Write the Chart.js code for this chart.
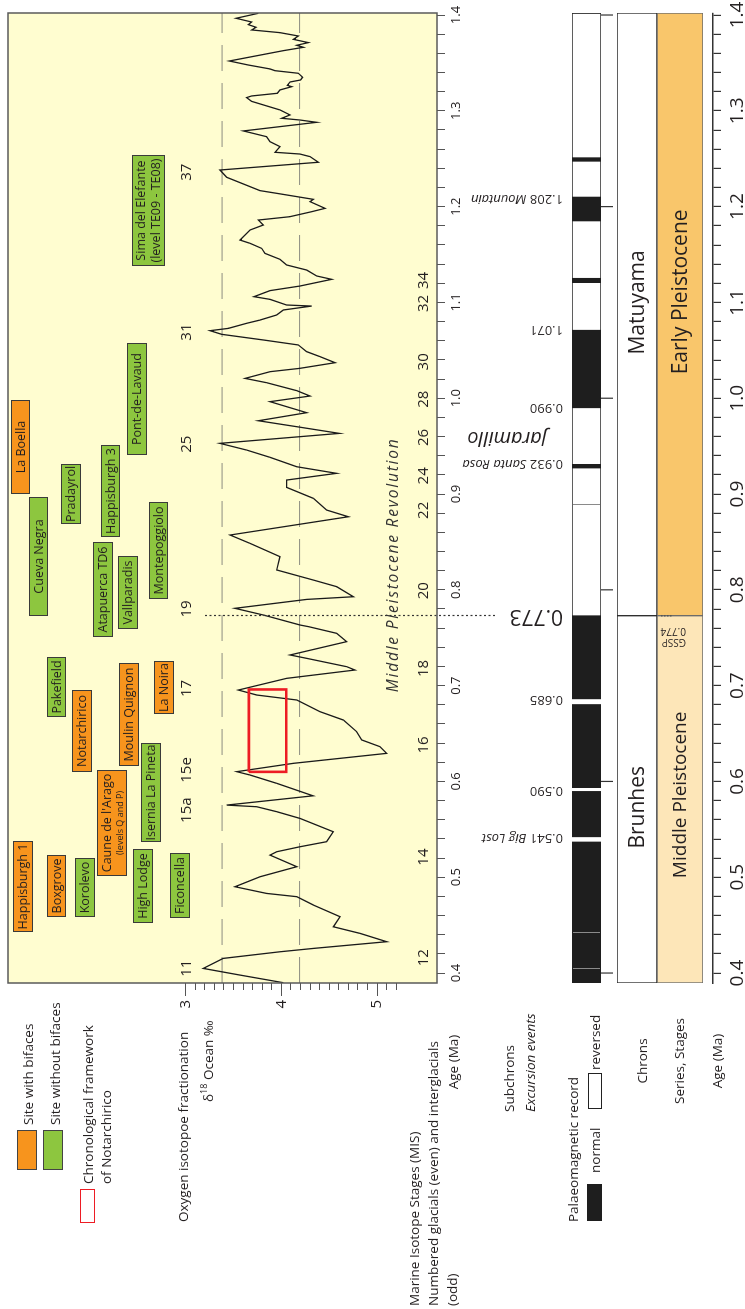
<!DOCTYPE html>
<html>
<head>
<meta charset="utf-8">
<title>Notarchirico chronological framework</title>
<script src="https://cdn.jsdelivr.net/npm/chart.js@4.4.1/dist/chart.umd.min.js"></script>
<style>
  html, body { margin: 0; padding: 0; width: 745px; height: 1309px; overflow: hidden; background: #fff; }
  /* the figure is laid out lying on its side and turned a quarter turn */
  #fig { position: absolute; left: 0; top: 0; width: 1309px; height: 745px;
         transform-origin: 0 0; transform: translateY(1309px) rotate(-90deg);
         font-family: 'Open Sans', sans-serif; color: #231f20; }
  #fig canvas { position: absolute; left: 0; }
  #plot { top: -20px; }
  #strips { top: 440px; }
  .t { position: absolute; white-space: nowrap; font-size: 13.5px; line-height: 16px; }
  .c { transform: translateX(-50%); }
  .sw { position: absolute; box-sizing: border-box; }
  sup { font-size: 9px; vertical-align: 6px; line-height: 0; }
</style>
</head>
<body>
<div id="fig">
  <canvas id="plot" width="1330" height="520"></canvas>
  <canvas id="strips" width="1330" height="305"></canvas>

  <div class="sw" style="left:139px;top:17px;width:40px;height:20px;background:#f7941d;border:1px solid #444"></div>
  <div class="sw" style="left:139px;top:43px;width:40px;height:20px;background:#8dc63f;border:1px solid #444"></div>
  <div class="t" style="left:184px;top:20px">Site with bifaces</div>
  <div class="t" style="left:184px;top:47px">Site without bifaces</div>
  <div class="sw" style="left:86px;top:80px;width:34px;height:15px;border:1.5px solid #ed1c24;background:#fff"></div>
  <div class="t" style="left:125px;top:80px">Chronological framework</div>
  <div class="t" style="left:125px;top:98px">of Notarchirico</div>
  <div class="t" style="left:87px;top:175px">Oxygen isotopoe fractionation</div>
  <div class="t" style="left:207px;top:200px">δ<sup>18</sup> Ocean ‰</div>

  <div class="t" style="left:3px;top:406px">Marine Isotope Stages (MIS)</div>
  <div class="t" style="left:3px;top:425px">Numbered glacials (even) and interglacials</div>
  <div class="t" style="left:3px;top:444px">(odd)</div>
  <div class="t c" style="left:247px;top:445px">Age (Ma)</div>
  <div class="t" style="left:197px;top:501px">Subchrons</div>
  <div class="t" style="left:197px;top:522px;font-style:italic">Excursion events</div>
  <div class="t" style="left:87px;top:565px">Palaeomagnetic record</div>
  <div class="sw" style="left:88px;top:587px;width:37px;height:15px;background:#1e1e1e"></div>
  <div class="t" style="left:136px;top:587px">normal</div>
  <div class="sw" style="left:200px;top:588px;width:36px;height:14px;border:1px solid #222;background:#fff"></div>
  <div class="t" style="left:239px;top:587px">reversed</div>
  <div class="t c" style="left:248px;top:634px">Chrons</div>
  <div class="t c" style="left:248px;top:671px">Series, Stages</div>
  <div class="t c" style="left:248px;top:709px">Age (Ma)</div>
</div>

<script>
// ---- data ----
const ageMin = 0.3896, ageMax = 1.4021;      // Ma shown along the age axis
const d18oMin = 1.143, d18oMax = 5.626;      // per mil shown across the plot
const ageTickLabels = [0.4, 0.5, 0.6, 0.7, 0.8, 0.9, 1.0, 1.1, 1.2, 1.3, 1.4];
const d18oTickLabels = [3, 4, 5];

// benthic d18O stack (Ma, per mil)
const stackAge = [
  0.3899, 0.3979, 0.4048, 0.4153, 0.4222, 0.4257, 0.4327, 0.4414, 0.4483, 0.4588,
  0.4710, 0.4797, 0.4831, 0.4901, 0.5005, 0.5110, 0.5231, 0.5266, 0.5318, 0.5371,
  0.5475, 0.5614, 0.5684, 0.5736, 0.5753, 0.5850, 0.5980, 0.6067, 0.6102, 0.6189,
  0.6293, 0.6363, 0.6433, 0.6520, 0.6641, 0.6728, 0.6850, 0.6902, 0.6954, 0.7076,
  0.7163, 0.7198, 0.7285, 0.7320, 0.7459, 0.7546, 0.7616, 0.7633, 0.7737, 0.7807,
  0.7900, 0.7928, 0.8033, 0.8102, 0.8207, 0.8346, 0.8485, 0.8572, 0.8763, 0.8833,
  0.8955, 0.9069, 0.9146, 0.9216, 0.9285, 0.9383, 0.9459, 0.9529, 0.9633, 0.9703,
  0.9765, 0.9849, 0.9964, 1.0023, 1.0079, 1.0162, 1.0207, 1.0277, 1.0312, 1.0371,
  1.0434, 1.0486, 1.0556, 1.0608, 1.0667, 1.0705, 1.0729, 1.0782, 1.0816, 1.0869,
  1.0921, 1.0962, 1.0973, 1.1032, 1.1060, 1.1123, 1.1171, 1.1241, 1.1276, 1.1338,
  1.1391, 1.1450, 1.1512, 1.1564, 1.1617, 1.1651, 1.1756, 1.1808, 1.1860, 1.1895,
  1.1947, 1.1982, 1.2052, 1.2076, 1.2139, 1.2167, 1.2306, 1.2382, 1.2463, 1.2522,
  1.2549, 1.2567, 1.2626, 1.2678, 1.2730, 1.2790, 1.2880, 1.2904, 1.2922, 1.2957,
  1.3009, 1.3099, 1.3138, 1.3155, 1.3183, 1.3218, 1.3252, 1.3266, 1.3301, 1.3322,
  1.3350, 1.3392, 1.3419, 1.3437, 1.3478, 1.3520, 1.3628, 1.3663, 1.3684, 1.3712,
  1.3746, 1.3781, 1.3816, 1.3844, 1.3872, 1.3900, 1.3927, 1.3966, 1.4018
];
const stackD18O = [
  4.020, 3.567, 3.184, 3.393, 3.985, 4.334, 5.100, 4.821, 4.543, 4.612,
  4.334, 4.160, 3.846, 3.515, 3.776, 4.160, 3.881, 3.951, 4.194, 4.473,
  4.543, 4.194, 3.951, 3.742, 3.428, 4.330, 3.951, 3.672, 3.533, 4.125,
  5.100, 5.030, 4.839, 4.786, 4.647, 4.403, 4.160, 3.742, 3.550, 4.055,
  4.769, 4.682, 4.264, 4.090, 4.682, 4.577, 4.281, 4.194, 3.811, 3.515,
  4.264, 4.752, 4.577, 4.334, 3.951, 3.985, 3.672, 3.463, 4.699, 4.473,
  4.334, 4.055, 4.055, 4.577, 4.160, 3.881, 3.637, 3.358, 4.605, 4.160,
  3.759, 4.264, 3.881, 4.299, 4.160, 3.846, 3.620, 3.881, 4.194, 4.560,
  4.403, 4.264, 4.177, 3.811, 3.376, 3.254, 3.445, 3.637, 3.776, 3.951,
  4.020, 4.316, 4.055, 3.881, 3.714, 3.881, 4.194, 4.525, 4.369, 4.264,
  4.055, 3.985, 3.829, 3.794, 3.672, 3.567, 3.672, 3.811, 3.759, 4.090,
  4.316, 4.456, 4.299, 4.334, 3.951, 3.776, 3.428, 3.358, 4.386, 4.299,
  4.194, 3.933, 3.985, 3.881, 3.846, 3.602, 4.368, 4.194, 4.003, 4.090,
  3.985, 3.689, 3.637, 3.689, 3.958, 3.985, 4.107, 4.062, 4.090, 4.201,
  4.222, 4.177, 3.933, 3.881, 3.654, 3.456, 4.020, 4.229, 4.160, 4.281,
  4.125, 4.177, 3.985, 3.689, 3.735, 3.654, 3.689, 3.526, 3.759
];
const dashedLevels = [3.38, 4.19];

const notarchiricoAge = [0.610, 0.696];
const notarchiricoD18O = [3.66, 4.05];

const misLabels = ['11', '12', '14', '15a', '15e', '16', '17', '18', '19', '20',
                   '22', '24', '25', '26', '28', '30', '31', '32', '34', '37'];
const misAges = [0.405, 0.416, 0.521, 0.570, 0.612, 0.638, 0.697, 0.718, 0.780, 0.799,
                 0.883, 0.919, 0.952, 0.959, 0.999, 1.038, 1.069, 1.099, 1.123, 1.236];

const siteNames = ['Happisburgh 1', 'Boxgrove', 'Korolevo', 'High Lodge', 'Ficoncella',
  "Caune de l'Arago\n(levels Q and P)", 'Isernia La Pineta', 'Notarchirico', 'Moulin Quignon',
  'Pakefield', 'La Noira', 'Atapuerca TD6', 'Vallparadis', 'Cueva Negra', 'Montepoggiolo',
  'Pradayrol', 'Happisburgh 3', 'La Boella', 'Pont-de-Lavaud', 'Sima del Elefante\n(level TE09 - TE08)'];
const siteFrom = [0.443, 0.459, 0.458, 0.452, 0.457, 0.501, 0.537, 0.610, 0.616, 0.667,
                  0.670, 0.751, 0.759, 0.773, 0.790, 0.869, 0.855, 0.900, 0.941, 1.138];
const siteTo = [0.538, 0.523, 0.520, 0.529, 0.525, 0.612, 0.640, 0.695, 0.724, 0.730,
                0.726, 0.850, 0.835, 0.897, 0.892, 0.931, 0.951, 0.998, 1.058, 1.254];
const siteBifaces = [true, true, false, false, false, true, false, true, true, false,
                     true, false, false, false, false, false, false, true, false, false];

const normalIntervals = [[0.3896, 0.773], [0.990, 1.071], [1.185, 1.210]];
const normalEvents = [[0.9271, 0.9310], [1.1206, 1.1252], [1.2473, 1.2511]];
const reversedEvents = [[0.5375, 0.5415], [0.5903, 0.5928], [0.6810, 0.6855]];
const minorEvents = [0.404, 0.442, 0.889];

const subchronAges = [0.541, 0.590, 0.685, 0.932, 0.990, 1.071, 1.208];
const subchronNames = ['Big Lost', '', '', 'Santa Rosa', '', '', 'Mountain'];
const boundaryAge = 0.773;
const jaramilloAge = 0.959;
const gsspAge = 0.774;
const paleoTickAges = [0.4, 0.6, 0.8, 1.0, 1.2, 1.4];

const chronNames = ['Brunhes', 'Matuyama'];
const chronFrom = [0.3896, 0.773];
const chronTo = [0.773, 1.4021];
const seriesNames = ['Middle Pleistocene', 'Early Pleistocene'];
const seriesFrom = [0.3896, 0.773];
const seriesTo = [0.773, 1.4021];

// ---- layout (pixels across the lying-down frame) ----
const PLOT_TOP = -20;                 // where the plot canvas starts
const cy = v => v - PLOT_TOP;
const misOddV = 187, misEvenV = 423.5, mprV = 393.5, mprAge = 0.826;
const mbbFromV = 205, mbbToV = 495;
const siteLanes = [[13, 33], [47, 66], [75, 95], [133, 153], [170, 190], [97, 127], [141, 161],
  [72, 92], [119, 139], [47, 66], [154, 174], [93, 113], [118, 138], [29, 48], [149, 168],
  [61, 81], [101, 120], [11, 30], [127, 147], [132, 165]];
const chronLabelAges = [0.573, 1.100];
const seriesLabelAges = [0.586, 1.111];
const seriesFontSizes = [19, 21];

const INK = '#231f20', ORANGE = '#f7941d', GREEN = '#8dc63f';
const FONT = '"Open Sans", sans-serif';

Chart.defaults.font.family = FONT;
Chart.defaults.color = INK;

const minorAgeTicks = [];
for (let i = 0; i <= 50; i++) minorAgeTicks.push(+(0.4 + i * 0.02).toFixed(2));
const minorD18OTicks = [];
for (let i = 0; i <= 22; i++) minorD18OTicks.push(+(3 + i * 0.1).toFixed(1));
const isAgeLabel = v => ageTickLabels.some(t => Math.abs(t - v) < 1e-6);
const ageLabel = v => isAgeLabel(v) ? v.toFixed(1) : '';

// yellow panel, site boxes, stage numbers and notes
const plotDecor = {
  id: 'plotDecor',
  beforeDraw(chart) {
    const {ctx, chartArea: a} = chart;
    ctx.save();
    ctx.fillStyle = '#fffdd0';
    ctx.fillRect(a.left, a.top, a.right - a.left, a.bottom - a.top);
    ctx.restore();
  },
  afterDatasetsDraw(chart) {
    const {ctx, chartArea: a} = chart;
    const x = chart.scales.x;
    const px = v => x.getPixelForValue(v);
    ctx.save();

    ctx.fillStyle = INK;
    ctx.textAlign = 'center';
    ctx.textBaseline = 'middle';
    ctx.font = '15px ' + FONT;
    misLabels.forEach((lab, i) => {
      const odd = parseInt(lab, 10) % 2 === 1;
      ctx.fillText(lab, px(misAges[i]), cy(odd ? misOddV : misEvenV));
    });

    siteNames.forEach((name, i) => {
      const x1 = Math.round(px(siteFrom[i])), x2 = Math.round(px(siteTo[i]));
      const y1 = cy(siteLanes[i][0]), y2 = cy(siteLanes[i][1]);
      ctx.fillStyle = siteBifaces[i] ? ORANGE : GREEN;
      ctx.fillRect(x1, y1, x2 - x1, y2 - y1);
      ctx.strokeStyle = '#3a3a3a';
      ctx.lineWidth = 1;
      ctx.strokeRect(x1 + 0.5, y1 + 0.5, x2 - x1 - 1, y2 - y1 - 1);
      ctx.fillStyle = INK;
      const lines = name.split('\n');
      const cx = (x1 + x2) / 2, mid = (y1 + y2) / 2;
      ctx.font = '12.5px ' + FONT;
      if (lines.length === 1) {
        ctx.fillText(lines[0], cx, mid + 0.5);
      } else if (y2 - y1 > 31) {
        ctx.fillText(lines[0], cx, mid - 7);
        ctx.fillText(lines[1], cx, mid + 8);
      } else {
        ctx.fillText(lines[0], cx, mid - 4.5);
        ctx.font = '9px ' + FONT;
        ctx.fillText(lines[1], cx, mid + 8.5);
      }
    });

    ctx.fillStyle = '#333';
    ctx.font = 'italic 15.5px ' + FONT;
    ctx.letterSpacing = '1.8px';
    ctx.fillText('Middle Pleistocene Revolution', px(mprAge), cy(mprV));
    ctx.letterSpacing = '0px';

    const b = Math.round(px(boundaryAge)) + 0.5;
    ctx.strokeStyle = '#333';
    ctx.lineWidth = 1.2;
    ctx.setLineDash([2, 2.5]);
    ctx.beginPath();
    ctx.moveTo(b, cy(mbbFromV));
    ctx.lineTo(b, cy(mbbToV));
    ctx.stroke();
    ctx.setLineDash([]);

    ctx.strokeStyle = '#5a5a5a';
    ctx.lineWidth = 1.5;
    ctx.strokeRect(a.left, a.top, a.right - a.left, a.bottom - a.top);
    ctx.restore();
  }
};

const xy = (xs, ys) => xs.map((v, i) => ({x: v, y: ys[i]}));
const na = notarchiricoAge, nd = notarchiricoD18O;

new Chart(document.getElementById('plot'), {
  type: 'line',
  data: {
    datasets: [
      {
        label: 'Notarchirico',
        data: xy([na[0], na[0], na[1], na[1], na[0]], [nd[0], nd[1], nd[1], nd[0], nd[0]]),
        borderColor: '#ed1c24', borderWidth: 2.6, pointRadius: 0, order: 1
      },
      {
        label: 'd18O',
        data: xy(stackAge, stackD18O),
        borderColor: '#1a1a1a', borderWidth: 1.3, pointRadius: 0, tension: 0, order: 2
      },
      ...dashedLevels.map(l => ({
        label: 'level ' + l,
        data: xy([ageMin, ageMax], [l, l]),
        borderColor: '#8c8c80', borderWidth: 1, borderDash: [26, 12], pointRadius: 0, order: 3
      }))
    ]
  },
  options: {
    responsive: false,
    animation: false,
    events: [],
    layout: { padding: { left: 296, right: 34, top: 28, bottom: 33 } },
    plugins: { legend: { display: false }, tooltip: { enabled: false } },
    scales: {
      x: {
        type: 'linear', min: ageMin, max: ageMax, bounds: 'data',
        afterBuildTicks: s => { s.ticks = minorAgeTicks.map(v => ({value: v})); },
        afterFit: s => { s.height = 30; },
        ticks: { autoSkip: false, maxRotation: 0, padding: 3, font: { size: 13 }, callback: ageLabel },
        grid: { drawOnChartArea: false, tickLength: 8, color: '#555', lineWidth: 1 },
        border: { display: false }
      },
      y: {
        type: 'linear', min: d18oMin, max: d18oMax, reverse: true, bounds: 'data', position: 'left', weight: 1,
        afterBuildTicks: s => { s.ticks = minorD18OTicks.map(v => ({value: v})); },
        afterFit: s => { s.width = 0; },
        ticks: { display: false },
        grid: { drawOnChartArea: false, tickLength: 7, color: '#555', lineWidth: 1 },
        border: { display: false }
      },
      yMajor: {
        type: 'linear', min: d18oMin, max: d18oMax, reverse: true, bounds: 'data', position: 'left', weight: 2,
        afterBuildTicks: s => { s.ticks = d18oTickLabels.map(v => ({value: v})); },
        afterFit: s => { s.width = 30; },
        ticks: { padding: 4, font: { size: 15 }, callback: v => String(v) },
        grid: { drawOnChartArea: false, tickLength: 13, color: '#555', lineWidth: 1 },
        border: { display: false }
      }
    }
  },
  plugins: [plotDecor]
});

// palaeomagnetic record, chrons, series
const stripDecor = {
  id: 'stripDecor',
  afterDatasetsDraw(chart) {
    const {ctx, scales} = chart;
    const x = scales.x, paleo = scales.yPaleo, tk = scales.yTicks, chron = scales.yChron, series = scales.ySeries;
    const px = v => x.getPixelForValue(v);
    ctx.save();

    ctx.strokeStyle = '#8a8a8a';
    ctx.lineWidth = 1;
    minorEvents.forEach(a => {
      const p = Math.round(px(a)) + 0.5;
      ctx.beginPath(); ctx.moveTo(p, paleo.top + 1); ctx.lineTo(p, paleo.bottom - 1); ctx.stroke();
    });

    ctx.strokeStyle = '#333';
    ctx.lineWidth = 1.2;
    paleoTickAges.forEach(a => {
      const p = px(a);
      ctx.beginPath(); ctx.moveTo(p, tk.top); ctx.lineTo(p, tk.top + 12); ctx.stroke();
    });

    ctx.fillStyle = INK;
    ctx.textAlign = 'center';
    ctx.textBaseline = 'middle';
    ctx.font = '21px ' + FONT;
    chronNames.forEach((n, i) => ctx.fillText(n, px(chronLabelAges[i]), (chron.top + chron.bottom) / 2 + 1));
    seriesNames.forEach((n, i) => {
      ctx.font = seriesFontSizes[i] + 'px ' + FONT;
      ctx.fillText(n, px(seriesLabelAges[i]), (series.top + series.bottom) / 2 + 1);
    });

    const upright = (cx, cyy, draw) => {
      ctx.save();
      ctx.translate(cx, cyy);
      ctx.rotate(-Math.PI / 2);
      ctx.textAlign = 'left';
      ctx.textBaseline = 'middle';
      draw();
      ctx.restore();
    };
    subchronAges.forEach((a, i) => upright(px(a), paleo.top - 9, () => {
      const num = a.toFixed(3);
      ctx.font = '13px ' + FONT;
      ctx.fillText(num, 0, 0);
      if (subchronNames[i]) {
        const w = ctx.measureText(num + ' ').width;
        ctx.font = 'italic 13px ' + FONT;
        ctx.fillText(subchronNames[i], w, 0);
      }
    }));
    upright(px(boundaryAge), paleo.top - 9, () => {
      ctx.font = '21px ' + FONT;
      ctx.fillText(boundaryAge.toFixed(3), 0, 0);
    });
    upright(px(jaramilloAge), paleo.top - 25, () => {
      ctx.font = 'italic 20px ' + FONT;
      ctx.fillText('Jaramillo', 0, 0);
    });

    const g = px(gsspAge);
    upright(g - 22, series.top + 29, () => {
      ctx.font = '10px ' + FONT;
      ctx.fillText('GSSP', 0, -5.5);
      ctx.fillText(gsspAge.toFixed(3), 0, 5.5);
    });
    ctx.strokeStyle = '#555';
    ctx.lineWidth = 1.5;
    ctx.setLineDash([1.5, 1.5]);
    ctx.beginPath(); ctx.moveTo(g - 1, series.top + 4); ctx.lineTo(g - 1, series.top + 15); ctx.stroke();
    ctx.setLineDash([]);
    ctx.restore();
  }
};

const row = (id, weight, order) => ({
  type: 'category', labels: [id], offset: true, display: false, position: 'left',
  stack: 'strips', stackWeight: weight, weight: order, grid: { display: false }
});
const bars = (ranges, rowId) => ranges.map(r => ({x: r, y: rowId}));
const barStyle = { grouped: false, barPercentage: 1, categoryPercentage: 1, borderSkipped: false };

new Chart(document.getElementById('strips'), {
  type: 'bar',
  data: {
    datasets: [
      { ...barStyle, label: 'excursions (normal)', yAxisID: 'yPaleo', data: bars(normalEvents, 'paleo'),
        backgroundColor: '#1e1e1e', borderWidth: 0, order: 1 },
      { ...barStyle, label: 'excursions (reversed)', yAxisID: 'yPaleo', data: bars(reversedEvents, 'paleo'),
        backgroundColor: '#ffffff', borderWidth: 0, order: 1 },
      { ...barStyle, label: 'normal', yAxisID: 'yPaleo', data: bars(normalIntervals, 'paleo'),
        backgroundColor: '#1e1e1e', borderWidth: 0, order: 2 },
      { ...barStyle, label: 'record', yAxisID: 'yPaleo', data: bars([[ageMin, ageMax]], 'paleo'),
        backgroundColor: '#ffffff', borderColor: '#2a2a2a', borderWidth: 1.2, order: 3 },
      { ...barStyle, label: 'chrons', yAxisID: 'yChron', data: bars(chronFrom.map((f, i) => [f, chronTo[i]]), 'chron'),
        backgroundColor: '#ffffff', borderColor: '#2a2a2a', borderWidth: 1, order: 3 },
      { ...barStyle, label: 'series', yAxisID: 'ySeries', data: bars(seriesFrom.map((f, i) => [f, seriesTo[i]]), 'series'),
        backgroundColor: ['#fde6b8', '#f9c66b'], borderColor: '#6a6a6a', borderWidth: 1, order: 3 }
    ]
  },
  options: {
    indexAxis: 'y',
    responsive: false,
    animation: false,
    events: [],
    layout: { padding: { left: 326, right: 34, top: 132, bottom: 0 } },
    plugins: { legend: { display: false }, tooltip: { enabled: false } },
    scales: {
      x: {
        type: 'linear', min: ageMin, max: ageMax, bounds: 'data', position: 'bottom',
        afterBuildTicks: s => { s.ticks = minorAgeTicks.map(v => ({value: v})); },
        afterFit: s => { s.height = 32; },
        ticks: { autoSkip: false, maxRotation: 0, padding: 5, font: { size: 19 }, callback: ageLabel },
        grid: { drawOnChartArea: false, tickLength: 8, color: '#333', lineWidth: 1.2 },
        border: { display: true, color: '#333', width: 1.5 }
      },
      yPaleo: row('paleo', 29, 5),
      yTicks: row('ticks', 16, 4),
      yChron: row('chron', 40, 3),
      ySeries: row('series', 46, 2),
      yGap: row('gap', 10, 1)
    }
  },
  plugins: [stripDecor]
});
</script>
</body>
</html>
